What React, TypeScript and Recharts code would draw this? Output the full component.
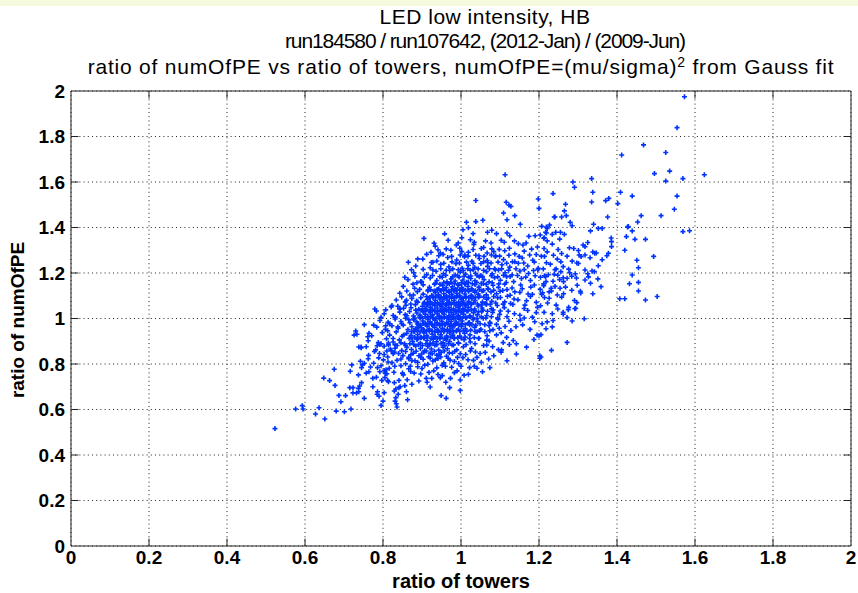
import { ScatterChart, Scatter, XAxis, YAxis, CartesianGrid, ReferenceLine } from 'recharts';

// tick values shared by both axes
const towerTicks = [0, 0.2, 0.4, 0.6, 0.8, 1, 1.2, 1.4, 1.6, 1.8, 2];
const peTicks = [0, 0.2, 0.4, 0.6, 0.8, 1, 1.2, 1.4, 1.6, 1.8, 2];

// [ratio of towers, ratio of numOfPE]
const lowTail = [
  [0.523, 0.516], [0.576, 0.602], [0.593, 0.617], [0.595, 0.602], [0.627, 0.58], [0.636, 0.608], [0.651, 0.558],
  [0.68, 0.593], [0.701, 0.59], [0.718, 0.602], [0.648, 0.738], [0.663, 0.727], [0.677, 0.706], [0.675, 0.777],
  [0.687, 0.662], [0.692, 0.634], [0.704, 0.661], [0.715, 0.696], [0.723, 0.696], [0.723, 0.673], [0.732, 0.673],
  [0.738, 0.678], [0.74, 0.703], [0.737, 0.693], [0.745, 0.718], [0.752, 0.649], [0.764, 0.766], [0.716, 0.768],
  [0.72, 0.796], [0.737, 0.752], [0.745, 0.784], [0.757, 0.76], [0.752, 0.803], [0.747, 0.796], [0.774, 0.7],
  [0.786, 0.678], [0.785, 0.667], [0.79, 0.658], [0.803, 0.674], [0.774, 0.737], [0.783, 0.742], [0.797, 0.728],
  [0.812, 0.727], [0.8, 0.637], [0.795, 0.618], [0.833, 0.652], [0.831, 0.637], [0.834, 0.625], [0.836, 0.611],
  [0.863, 0.643], [0.814, 0.722], [0.829, 0.718], [0.841, 0.696], [0.856, 0.705], [0.86, 0.678], [0.839, 0.667],
  [0.829, 0.681], [0.792, 0.766], [0.803, 0.771], [0.786, 0.784], [0.81, 0.757], [0.795, 0.792], [0.833, 0.69],
  [0.844, 0.7], [0.874, 0.711], [0.862, 0.731], [0.841, 0.728], [0.805, 0.74], [0.808, 0.775], [0.892, 0.725],
  [0.913, 0.72], [0.921, 0.699], [0.911, 0.737], [0.925, 0.737], [0.947, 0.74], [0.952, 0.749], [0.961, 0.72],
  [0.973, 0.737], [0.971, 0.696], [0.998, 0.73], [0.998, 0.684], [0.949, 0.661], [0.962, 0.649], [1.019, 0.755],
  [1.022, 0.784], [1.041, 0.781], [1.074, 0.784], [1.055, 0.766], [0.88, 0.76], [0.9, 0.78], [0.87, 0.79],
  [0.93, 0.77], [0.96, 0.79], [0.85, 0.76], [0.83, 0.79], [0.99, 0.77], [1.0, 0.79],
  [0.738, 0.875], [0.744, 0.875], [0.726, 0.927], [0.73, 0.945], [0.757, 0.876], [0.752, 0.973], [0.764, 0.935],
  [0.761, 0.92], [0.779, 1.042], [0.783, 1.033], [0.776, 0.971], [0.807, 0.968], [0.785, 0.88], [0.795, 0.889],
  [0.814, 0.884], [0.81, 0.857], [0.826, 0.845], [0.831, 0.869], [0.838, 1.054], [0.844, 1.042], [0.86, 1.08],
  [0.806, 0.758], [0.828, 0.764], [0.852, 0.752], [0.871, 0.767], [0.897, 0.756], [0.918, 0.763], [0.941, 0.754],
  [0.983, 0.762], [1.008, 0.751], [0.768, 0.787], [0.816, 0.781], [0.846, 0.792], [0.866, 0.779], [0.889, 0.788],
  [0.907, 0.795], [0.938, 0.783], [0.952, 0.794], [0.976, 0.786], [1.034, 0.79],
];

const lowerBand = [
  [0.742, 0.812], [0.776, 0.803], [0.801, 0.818], [0.823, 0.806], [0.846, 0.822], [0.858, 0.801], [0.874, 0.815],
  [0.889, 0.808], [0.903, 0.821], [0.915, 0.799], [0.928, 0.813], [0.941, 0.824], [0.956, 0.805], [0.972, 0.817],
  [0.994, 0.802], [1.018, 0.819], [1.052, 0.808], [1.118, 0.814],
  [0.762, 0.823], [0.789, 0.827], [0.813, 0.809], [0.836, 0.816], [0.866, 0.823], [0.882, 0.814], [0.897, 0.829],
  [0.921, 0.826], [0.934, 0.818], [0.948, 0.831], [0.967, 0.825], [0.983, 0.811], [1.005, 0.828], [1.032, 0.816],
  [1.071, 0.822],
  [0.763, 0.838], [0.791, 0.846], [0.812, 0.831], [0.829, 0.852], [0.851, 0.837], [0.866, 0.829], [0.878, 0.848],
  [0.892, 0.836], [0.905, 0.853], [0.917, 0.832], [0.926, 0.845], [0.938, 0.839], [0.949, 0.851], [0.963, 0.834],
  [0.978, 0.847], [0.991, 0.829], [1.012, 0.842], [1.037, 0.853], [1.084, 0.836], [1.142, 0.844],
  [0.778, 0.855], [0.803, 0.842], [0.821, 0.858], [0.84, 0.846], [0.858, 0.855], [0.871, 0.84], [0.885, 0.856],
  [0.899, 0.844], [0.911, 0.857], [0.921, 0.848], [0.932, 0.856], [0.944, 0.843], [0.957, 0.857], [0.97, 0.849],
  [0.984, 0.856], [0.998, 0.845], [1.024, 0.857], [1.049, 0.846], [1.103, 0.852],
  [0.744, 0.871], [0.781, 0.862], [0.803, 0.878], [0.819, 0.866], [0.836, 0.881], [0.848, 0.859], [0.861, 0.873],
  [0.873, 0.864], [0.884, 0.879], [0.896, 0.868], [0.907, 0.858], [0.915, 0.877], [0.924, 0.866], [0.933, 0.882],
  [0.943, 0.861], [0.954, 0.874], [0.965, 0.867], [0.977, 0.883], [0.989, 0.862], [1.006, 0.876], [1.027, 0.868],
  [1.058, 0.881], [1.096, 0.863], [1.168, 0.874],
  [0.792, 0.886], [0.814, 0.892], [0.831, 0.884], [0.846, 0.893], [0.858, 0.882], [0.869, 0.889], [0.879, 0.885],
  [0.891, 0.886], [0.901, 0.881], [0.91, 0.889], [0.919, 0.884], [0.928, 0.891], [0.938, 0.885], [0.949, 0.89],
  [0.958, 0.882], [0.968, 0.889], [0.981, 0.884], [0.994, 0.891], [1.013, 0.885], [1.036, 0.889], [1.066, 0.883],
  [1.124, 0.886],
  [0.762, 0.902], [0.788, 0.894], [0.809, 0.911], [0.826, 0.897], [0.842, 0.906], [0.855, 0.889], [0.867, 0.913],
  [0.876, 0.899], [0.887, 0.908], [0.896, 0.892], [0.904, 0.915], [0.913, 0.903], [0.921, 0.891], [0.929, 0.909],
  [0.937, 0.898], [0.946, 0.912], [0.954, 0.893], [0.962, 0.906], [0.971, 0.899], [0.982, 0.914], [0.993, 0.893],
  [1.008, 0.907], [1.024, 0.897], [1.045, 0.912], [1.072, 0.901], [1.108, 0.894], [1.187, 0.908],
  [0.733, 0.931], [0.771, 0.924], [0.798, 0.938], [0.817, 0.927], [0.834, 0.941], [0.849, 0.922], [0.861, 0.935],
  [0.872, 0.926], [0.881, 0.943], [0.889, 0.929], [0.897, 0.918], [0.905, 0.937], [0.912, 0.925], [0.919, 0.944],
  [0.926, 0.931], [0.934, 0.921], [0.941, 0.939], [0.948, 0.928], [0.956, 0.942], [0.963, 0.923], [0.971, 0.936],
  [0.979, 0.927], [0.988, 0.944], [0.997, 0.922], [1.009, 0.935], [1.023, 0.928], [1.041, 0.942], [1.067, 0.924],
  [1.103, 0.937], [1.205, 0.929],
];

const core = [
  [0.784, 0.962], [0.806, 0.953], [0.823, 0.968], [0.839, 0.957], [0.852, 0.971], [0.864, 0.951], [0.874, 0.964],
  [0.883, 0.955], [0.891, 0.972], [0.899, 0.959], [0.906, 0.948], [0.913, 0.966], [0.919, 0.954], [0.926, 0.973],
  [0.932, 0.961], [0.939, 0.951], [0.945, 0.969], [0.952, 0.957], [0.958, 0.974], [0.965, 0.952], [0.971, 0.966],
  [0.978, 0.958], [0.985, 0.971], [0.993, 0.953], [1.001, 0.965], [1.011, 0.956], [1.022, 0.972], [1.035, 0.961],
  [1.051, 0.952], [1.072, 0.968], [1.098, 0.957], [1.141, 0.964], [1.218, 0.955],
  [0.792, 0.991], [0.813, 0.983], [0.831, 0.998], [0.846, 0.987], [0.858, 1.001], [0.869, 0.981], [0.879, 0.994],
  [0.887, 0.985], [0.895, 1.002], [0.902, 0.989], [0.909, 0.979], [0.915, 0.996], [0.921, 0.986], [0.927, 1.003],
  [0.933, 0.991], [0.939, 0.981], [0.945, 0.999], [0.951, 0.988], [0.957, 1.004], [0.963, 0.982], [0.969, 0.996],
  [0.975, 0.987], [0.981, 1.001], [0.988, 0.984], [0.995, 0.997], [1.003, 0.989], [1.012, 1.003], [1.021, 0.982],
  [1.031, 0.995], [1.043, 0.987], [1.057, 1.001], [1.074, 0.983], [1.095, 0.996], [1.123, 0.988], [1.162, 1.002],
  [1.236, 0.991],
  [0.803, 1.021], [0.826, 1.013], [0.843, 1.028], [0.857, 1.017], [0.868, 1.031], [0.878, 1.011], [0.887, 1.024],
  [0.895, 1.015], [0.902, 1.032], [0.909, 1.019], [0.915, 1.009], [0.921, 1.026], [0.927, 1.016], [0.933, 1.033],
  [0.939, 1.021], [0.945, 1.011], [0.951, 1.029], [0.957, 1.018], [0.963, 1.034], [0.969, 1.012], [0.975, 1.026],
  [0.981, 1.017], [0.987, 1.031], [0.993, 1.014], [1.0, 1.027], [1.007, 1.019], [1.015, 1.033], [1.023, 1.012],
  [1.032, 1.025], [1.042, 1.016], [1.053, 1.031], [1.066, 1.013], [1.081, 1.027], [1.099, 1.018], [1.121, 1.032],
  [1.151, 1.014], [1.193, 1.026], [1.262, 1.019],
  [0.821, 1.051], [0.842, 1.043], [0.859, 1.058], [0.872, 1.047], [0.883, 1.061], [0.892, 1.041], [0.901, 1.054],
  [0.908, 1.045], [0.915, 1.062], [0.921, 1.049], [0.927, 1.039], [0.933, 1.056], [0.939, 1.046], [0.945, 1.063],
  [0.951, 1.051], [0.957, 1.041], [0.963, 1.059], [0.969, 1.048], [0.975, 1.064], [0.981, 1.042], [0.987, 1.056],
  [0.993, 1.047], [0.999, 1.061], [1.005, 1.044], [1.012, 1.057], [1.019, 1.049], [1.027, 1.063], [1.035, 1.042],
  [1.044, 1.055], [1.054, 1.046], [1.065, 1.061], [1.078, 1.043], [1.093, 1.057], [1.111, 1.048], [1.133, 1.062],
  [1.162, 1.044], [1.204, 1.056], [1.276, 1.049],
  [0.834, 1.081], [0.857, 1.073], [0.874, 1.088], [0.886, 1.077], [0.897, 1.091], [0.906, 1.071], [0.914, 1.084],
  [0.921, 1.075], [0.928, 1.092], [0.934, 1.079], [0.94, 1.069], [0.946, 1.086], [0.952, 1.076], [0.958, 1.093],
  [0.964, 1.081], [0.97, 1.071], [0.976, 1.089], [0.982, 1.078], [0.988, 1.094], [0.994, 1.072], [1.0, 1.086],
  [1.006, 1.077], [1.013, 1.091], [1.02, 1.074], [1.028, 1.087], [1.036, 1.079], [1.045, 1.093], [1.055, 1.072],
  [1.066, 1.085], [1.079, 1.076], [1.094, 1.091], [1.112, 1.073], [1.136, 1.086], [1.168, 1.078], [1.214, 1.092],
  [1.291, 1.079],
  [0.843, 1.111], [0.869, 1.103], [0.888, 1.118], [0.903, 1.107], [0.915, 1.121], [0.925, 1.101], [0.934, 1.114],
  [0.942, 1.105], [0.949, 1.122], [0.956, 1.109], [0.963, 1.099], [0.969, 1.116], [0.976, 1.106], [0.982, 1.123],
  [0.989, 1.111], [0.996, 1.101], [1.003, 1.119], [1.01, 1.108], [1.018, 1.124], [1.026, 1.102], [1.035, 1.116],
  [1.044, 1.107], [1.054, 1.121], [1.065, 1.104], [1.077, 1.117], [1.091, 1.109], [1.107, 1.123], [1.126, 1.102],
  [1.151, 1.115], [1.183, 1.106], [1.232, 1.121], [1.307, 1.112],
  [0.852, 1.141], [0.881, 1.133], [0.903, 1.148], [0.919, 1.137], [0.932, 1.151], [0.943, 1.131], [0.953, 1.144],
  [0.962, 1.135], [0.97, 1.152], [0.978, 1.139], [0.986, 1.129], [0.994, 1.146], [1.002, 1.136], [1.01, 1.153],
  [1.018, 1.141], [1.027, 1.131], [1.036, 1.149], [1.046, 1.138], [1.057, 1.154], [1.069, 1.132], [1.082, 1.146],
  [1.096, 1.137], [1.112, 1.151], [1.131, 1.134], [1.153, 1.147], [1.179, 1.138], [1.212, 1.152], [1.254, 1.133],
  [1.298, 1.146], [0.916, 1.126],
];

// the solid blue centre of the cloud
const coreFill = [
  [0.872, 0.913], [0.881, 0.918], [0.889, 0.911], [0.898, 0.917], [0.906, 0.914], [0.914, 0.919], [0.923, 0.912],
  [0.931, 0.916], [0.94, 0.913], [0.948, 0.918], [0.957, 0.911], [0.965, 0.916], [0.974, 0.919], [0.983, 0.912],
  [0.992, 0.917], [1.001, 0.914], [1.011, 0.918], [1.022, 0.912], [1.034, 0.916], [1.046, 0.913],
  [0.878, 0.944], [0.887, 0.948], [0.895, 0.942], [0.903, 0.947], [0.911, 0.943], [0.918, 0.949], [0.926, 0.945],
  [0.933, 0.941], [0.941, 0.947], [0.949, 0.943], [0.957, 0.949], [0.965, 0.944], [0.973, 0.948], [0.981, 0.942],
  [0.989, 0.947], [0.997, 0.943], [1.006, 0.948], [1.015, 0.944], [1.025, 0.949], [1.036, 0.943], [1.048, 0.947],
  [1.061, 0.942], [1.074, 0.946],
  [0.888, 0.976], [0.896, 0.971], [0.904, 0.978], [0.911, 0.973], [0.918, 0.979], [0.925, 0.974], [0.932, 0.97],
  [0.939, 0.977], [0.946, 0.972], [0.953, 0.978], [0.96, 0.973], [0.967, 0.979], [0.974, 0.974], [0.981, 0.97],
  [0.988, 0.977], [0.995, 0.972], [1.003, 0.978], [1.011, 0.973], [1.019, 0.979], [1.028, 0.974], [1.038, 0.97],
  [1.049, 0.977], [1.061, 0.973], [1.075, 0.978], [1.091, 0.974],
  [0.894, 1.006], [0.901, 1.001], [0.908, 1.008], [0.915, 1.003], [0.922, 1.009], [0.929, 1.004], [0.936, 1.0],
  [0.943, 1.007], [0.95, 1.002], [0.957, 1.008], [0.964, 1.003], [0.971, 1.009], [0.978, 1.004], [0.985, 1.0],
  [0.992, 1.007], [0.999, 1.002], [1.006, 1.008], [1.014, 1.003], [1.022, 1.009], [1.031, 1.004], [1.041, 1.0],
  [1.052, 1.007], [1.064, 1.002], [1.078, 1.008], [1.094, 1.003],
  [0.898, 1.036], [0.905, 1.031], [0.912, 1.038], [0.919, 1.033], [0.926, 1.039], [0.933, 1.034], [0.94, 1.03],
  [0.947, 1.037], [0.954, 1.032], [0.961, 1.038], [0.968, 1.033], [0.975, 1.039], [0.982, 1.034], [0.989, 1.03],
  [0.996, 1.037], [1.003, 1.032], [1.01, 1.038], [1.018, 1.033], [1.026, 1.039], [1.035, 1.034], [1.045, 1.03],
  [1.056, 1.037], [1.068, 1.032], [1.082, 1.038], [1.101, 1.033],
  [0.905, 1.066], [0.912, 1.061], [0.919, 1.068], [0.926, 1.063], [0.933, 1.069], [0.94, 1.064], [0.947, 1.06],
  [0.954, 1.067], [0.961, 1.062], [0.968, 1.068], [0.975, 1.063], [0.982, 1.069], [0.989, 1.064], [0.996, 1.06],
  [1.003, 1.067], [1.01, 1.062], [1.017, 1.068], [1.025, 1.063], [1.033, 1.069], [1.042, 1.064], [1.052, 1.06],
  [1.063, 1.067], [1.075, 1.062], [1.089, 1.068], [1.108, 1.063],
  [0.912, 1.096], [0.92, 1.091], [0.928, 1.098], [0.935, 1.093], [0.942, 1.099], [0.949, 1.094], [0.956, 1.09],
  [0.963, 1.097], [0.97, 1.092], [0.977, 1.098], [0.984, 1.093], [0.991, 1.099], [0.998, 1.094], [1.005, 1.09],
  [1.012, 1.097], [1.02, 1.092], [1.028, 1.098], [1.037, 1.093], [1.047, 1.099], [1.058, 1.094], [1.07, 1.09],
  [1.084, 1.097], [1.101, 1.092], [1.119, 1.098],
  [0.922, 1.126], [0.931, 1.121], [0.939, 1.128], [0.947, 1.123], [0.955, 1.129], [0.962, 1.124], [0.969, 1.12],
  [0.976, 1.127], [0.983, 1.122], [0.99, 1.128], [0.997, 1.123], [1.004, 1.129], [1.012, 1.124], [1.02, 1.12],
  [1.028, 1.127], [1.037, 1.122], [1.047, 1.128], [1.058, 1.123], [1.07, 1.129], [1.084, 1.124], [1.1, 1.12],
  [1.118, 1.127],
  [0.935, 1.156], [0.946, 1.151], [0.956, 1.158], [0.965, 1.153], [0.974, 1.159], [0.983, 1.154], [0.992, 1.15],
  [1.001, 1.157], [1.01, 1.152], [1.019, 1.158], [1.029, 1.153], [1.04, 1.159], [1.052, 1.154], [1.065, 1.15],
  [1.08, 1.157], [1.097, 1.152], [1.116, 1.158],
];

// shoulders left and right of the centre
const sideFill = [
  [1.118, 1.008], [1.137, 1.021], [1.152, 0.993], [1.171, 1.035], [1.183, 1.006], [1.196, 1.049], [1.213, 1.027],
  [1.127, 1.066], [1.146, 1.082], [1.164, 1.059], [1.178, 1.097], [1.193, 1.071], [1.209, 1.113], [1.226, 1.089],
  [1.241, 1.141], [1.138, 1.117], [1.157, 1.131], [1.172, 1.108], [1.188, 1.147], [1.203, 1.128], [1.218, 1.162],
  [1.247, 1.103], [1.268, 1.138], [1.279, 1.201], [1.253, 1.171], [1.113, 0.965], [1.128, 0.947], [1.158, 0.972],
  [1.177, 0.952], [1.189, 0.986], [1.082, 0.951], [1.091, 0.928], [1.117, 0.917], [1.134, 0.903], [1.066, 0.905],
  [1.081, 0.876], [1.104, 0.862], [1.062, 0.851], [1.041, 0.829],
  [0.812, 0.946], [0.826, 0.912], [0.838, 0.963], [0.853, 0.928], [0.817, 0.977], [0.832, 1.006], [0.848, 0.977],
  [0.861, 1.012], [0.873, 0.943], [0.866, 0.995], [0.853, 1.045], [0.871, 1.064], [0.884, 1.037], [0.889, 1.072],
  [0.878, 1.103], [0.894, 1.128], [0.861, 1.121], [0.877, 1.151], [0.899, 1.161], [0.848, 1.095], [0.823, 1.057],
  [0.807, 1.038], [0.795, 1.005], [0.891, 0.962], [0.881, 1.002],
  [0.856, 1.181], [0.873, 1.214], [0.889, 1.262], [0.912, 1.282], [0.928, 1.247], [0.887, 1.157], [0.941, 1.302],
];

const upperBand = [
  [0.864, 1.171], [0.897, 1.163], [0.921, 1.178], [0.938, 1.167], [0.952, 1.181], [0.964, 1.161], [0.975, 1.174],
  [0.985, 1.165], [0.995, 1.182], [1.005, 1.169], [1.015, 1.159], [1.025, 1.176], [1.036, 1.166], [1.047, 1.183],
  [1.059, 1.171], [1.072, 1.161], [1.086, 1.179], [1.101, 1.168], [1.117, 1.184], [1.135, 1.162], [1.155, 1.176],
  [1.178, 1.167], [1.204, 1.181], [1.236, 1.164], [1.272, 1.177], [1.318, 1.169], [1.351, 1.174],
  [0.882, 1.186], [0.906, 1.182], [0.927, 1.189], [0.946, 1.184], [0.961, 1.19], [0.978, 1.183], [0.991, 1.188],
  [1.008, 1.186], [1.019, 1.182], [1.041, 1.189], [1.055, 1.184], [1.078, 1.188], [1.094, 1.183], [1.109, 1.19],
  [1.126, 1.185], [1.145, 1.189], [1.166, 1.182], [1.19, 1.188], [1.217, 1.184], [1.248, 1.19], [1.284, 1.186],
  [1.327, 1.183],
  [0.879, 1.201], [0.912, 1.193], [0.936, 1.208], [0.955, 1.197], [0.971, 1.211], [0.985, 1.191], [0.998, 1.204],
  [1.011, 1.195], [1.024, 1.212], [1.037, 1.199], [1.051, 1.189], [1.065, 1.206], [1.08, 1.196], [1.096, 1.213],
  [1.113, 1.201], [1.131, 1.191], [1.151, 1.209], [1.173, 1.198], [1.197, 1.214], [1.224, 1.192], [1.256, 1.206],
  [1.293, 1.197], [1.336, 1.209], [1.025, 1.187],
  [0.903, 1.216], [0.928, 1.213], [0.948, 1.219], [0.962, 1.212], [0.979, 1.218], [0.993, 1.214], [1.006, 1.211],
  [1.017, 1.219], [1.031, 1.215], [1.044, 1.218], [1.058, 1.212], [1.073, 1.219], [1.088, 1.214], [1.104, 1.218],
  [1.122, 1.212], [1.141, 1.219], [1.162, 1.215], [1.186, 1.211], [1.211, 1.218], [1.241, 1.214], [1.276, 1.217],
  [1.318, 1.213],
  [0.884, 1.231], [0.921, 1.223], [0.948, 1.238], [0.969, 1.227], [0.987, 1.241], [1.003, 1.221], [1.019, 1.234],
  [1.035, 1.225], [1.051, 1.242], [1.068, 1.229], [1.086, 1.219], [1.105, 1.236], [1.125, 1.226], [1.147, 1.243],
  [1.171, 1.231], [1.198, 1.221], [1.229, 1.239], [1.262, 1.228], [1.301, 1.242], [1.352, 1.232], [1.069, 1.245],
  [0.924, 1.246], [0.956, 1.243], [0.977, 1.249], [0.996, 1.244], [1.014, 1.248], [1.031, 1.243], [1.058, 1.249],
  [1.077, 1.244], [1.095, 1.248], [1.117, 1.243], [1.138, 1.249], [1.161, 1.244], [1.188, 1.248], [1.219, 1.245],
  [1.256, 1.249], [1.297, 1.244],
  [0.902, 1.261], [0.938, 1.253], [0.966, 1.268], [0.989, 1.257], [1.009, 1.271], [1.028, 1.251], [1.047, 1.264],
  [1.067, 1.255], [1.088, 1.272], [1.109, 1.259], [1.132, 1.249], [1.157, 1.266], [1.184, 1.256], [1.214, 1.273],
  [1.247, 1.261], [1.285, 1.252], [1.331, 1.267], [1.362, 1.258],
  [0.943, 1.276], [0.976, 1.273], [0.998, 1.279], [1.018, 1.274], [1.038, 1.278], [1.059, 1.273], [1.078, 1.279],
  [1.099, 1.274], [1.123, 1.278], [1.149, 1.273], [1.176, 1.279], [1.206, 1.274], [1.237, 1.278], [1.272, 1.274],
  [1.318, 1.279],
  [0.923, 1.291], [0.947, 1.288], [0.954, 1.282], [0.974, 1.3], [1.002, 1.294], [1.01, 1.279], [1.019, 1.291],
  [1.046, 1.276], [1.067, 1.288], [1.084, 1.294], [1.089, 1.276], [1.112, 1.298], [1.138, 1.284], [1.162, 1.296],
  [1.193, 1.281], [1.221, 1.293], [1.258, 1.286], [1.301, 1.299], [1.343, 1.287],
  [0.962, 1.306], [0.997, 1.309], [1.031, 1.303], [1.052, 1.308], [1.098, 1.304], [1.124, 1.309], [1.181, 1.305],
  [1.213, 1.308], [1.249, 1.303], [1.289, 1.308],
  [0.934, 1.318], [0.988, 1.323], [0.993, 1.332], [1.033, 1.326], [1.058, 1.312], [1.077, 1.332], [1.079, 1.306],
  [1.111, 1.335], [1.147, 1.329], [1.159, 1.323], [1.167, 1.332], [1.196, 1.314], [1.234, 1.327], [1.278, 1.311],
  [1.325, 1.334], [0.865, 1.247], [0.905, 1.352], [0.958, 1.372], [0.931, 1.331],
];

const highTail = [
  [0.967, 1.344], [1.002, 1.355], [1.024, 1.346], [1.034, 1.335], [1.063, 1.341], [1.103, 1.344], [1.137, 1.341],
  [1.174, 1.361], [1.19, 1.364], [1.203, 1.367], [1.214, 1.355], [1.219, 1.376], [1.234, 1.37], [1.243, 1.379],
  [1.031, 1.373], [1.068, 1.379], [1.079, 1.388], [1.091, 1.373], [1.118, 1.376], [1.125, 1.364], [1.005, 1.39],
  [1.019, 1.399], [1.014, 1.423], [1.038, 1.426], [1.056, 1.432], [1.152, 1.414], [1.219, 1.402], [1.227, 1.411],
  [1.118, 1.434], [1.109, 1.464], [1.138, 1.452], [1.241, 1.446], [1.2, 1.484], [1.198, 1.525], [1.116, 1.511],
  [1.123, 1.499], [1.128, 1.493], [1.038, 1.519], [1.236, 1.549],
  [1.207, 1.405], [1.217, 1.379], [1.221, 1.396], [1.212, 1.353], [1.221, 1.341], [1.255, 1.379], [1.265, 1.37],
  [1.253, 1.349], [1.28, 1.423], [1.285, 1.408], [1.34, 1.414], [1.352, 1.396], [1.362, 1.396], [1.332, 1.385],
  [1.268, 1.502], [1.265, 1.473], [1.258, 1.446], [1.27, 1.452], [1.239, 1.446],
];

const rightScatter = [
  [1.573, 1.975], [1.554, 1.839], [1.468, 1.763], [1.412, 1.719], [1.525, 1.73], [1.535, 1.648], [1.496, 1.637],
  [1.525, 1.604], [1.569, 1.615], [1.624, 1.632], [1.113, 1.632], [1.287, 1.6], [1.291, 1.577], [1.335, 1.615],
  [1.409, 1.555], [1.338, 1.555], [1.439, 1.538], [1.554, 1.538], [1.379, 1.528], [1.371, 1.518], [1.335, 1.512],
  [1.402, 1.505], [1.547, 1.48], [1.462, 1.452], [1.513, 1.452], [1.453, 1.424], [1.376, 1.446], [1.429, 1.404],
  [1.569, 1.382], [1.586, 1.386], [1.473, 1.348], [1.446, 1.348], [1.424, 1.36], [1.42, 1.3], [1.494, 1.273],
  [1.451, 1.256], [1.455, 1.223], [1.439, 1.191], [1.432, 1.153], [1.455, 1.159], [1.455, 1.121], [1.407, 1.087],
  [1.42, 1.087], [1.473, 1.081], [1.503, 1.097], [1.385, 1.354], [1.386, 1.338], [1.386, 1.316], [1.378, 1.287],
  [1.374, 1.276], [1.313, 1.323], [1.318, 1.316], [1.303, 1.279], [1.308, 1.272], [1.338, 1.292], [1.347, 1.288],
  [1.325, 1.197], [1.342, 1.206], [1.359, 1.14], [1.338, 1.109], [1.332, 1.155], [1.306, 1.12], [1.297, 1.07],
  [1.292, 1.043], [1.316, 0.999], [1.284, 1.124], [1.296, 1.178], [1.427, 1.402], [1.439, 1.385],
  [1.272, 0.895], [1.205, 0.831], [1.234, 0.963], [1.208, 0.977], [1.221, 0.985], [1.285, 0.989], [1.272, 1.004],
  [1.262, 1.027], [1.275, 1.039], [1.294, 1.045], [1.244, 1.059], [1.248, 1.042], [1.234, 1.021], [1.258, 1.094],
  [1.263, 1.109], [1.226, 1.117], [1.262, 1.179], [1.263, 1.162], [1.239, 1.194], [1.244, 1.218], [1.214, 1.188],
  [1.212, 1.144], [1.231, 1.133], [1.207, 1.106], [1.222, 1.068], [1.202, 0.825], [1.202, 0.836], [1.142, 0.889],
  [1.232, 0.86], [1.195, 0.927], [1.2, 0.924],
];

const points = [
  ...lowTail,
  ...lowerBand,
  ...core,
  ...coreFill,
  ...sideFill,
  ...upperBand,
  ...highTail,
  ...rightScatter,
].map(([x, y]) => ({ towers: x, pe: y }));

const FONT = 'Arial, "Liberation Sans", Helvetica, sans-serif';
const BLUE = '#0033ff';

const PlusMarker = (props: any) => {
  const { cx, cy } = props;
  if (cx == null || cy == null) return null;
  return (
    <path
      d={`M${cx - 2.5},${cy}H${cx + 2.5}M${cx},${cy - 2.5}V${cy + 2.5}`}
      stroke={BLUE}
      strokeWidth={1.6}
      fill="none"
    />
  );
};

const tickStyle = { fontSize: 19, fill: '#000', fontFamily: FONT, fontWeight: 'bold' as const };
const titleLine = {
  position: 'absolute' as const,
  left: 0,
  width: 922,
  textAlign: 'center' as const,
  fontSize: 21,
  lineHeight: '22px',
  whiteSpace: 'nowrap' as const,
};

export default function App() {
  return (
    <div
      style={{
        position: 'absolute',
        left: 0,
        top: 0,
        width: 858,
        height: 593,
        background: '#fff',
        fontFamily: FONT,
        overflow: 'hidden',
      }}
    >
      <div style={{ position: 'absolute', left: 0, top: 0, width: 858, height: 6, background: '#f5fadc' }} />
      <div style={{ ...titleLine, left: 24, top: 6, letterSpacing: 0.5 }}>LED low intensity, HB</div>
      <div style={{ ...titleLine, left: 24, top: 30, letterSpacing: -1.1 }}>
        run184580 / run107642, (2012-Jan) / (2009-Jun)
      </div>
      <div style={{ ...titleLine, top: 56, letterSpacing: 0.8 }}>
        ratio of numOfPE vs ratio of towers, numOfPE=(mu/sigma)
        <sup style={{ fontSize: 14, verticalAlign: 'top', position: 'relative', top: -5 }}>2</sup> from Gauss fit
      </div>
      <ScatterChart width={858} height={593} margin={{ top: 91, right: 7, bottom: 0, left: 0 }}>
        <CartesianGrid stroke="#222" strokeDasharray="1 3.2" horizontalValues={peTicks} verticalValues={towerTicks} />
        <XAxis
          type="number"
          dataKey="towers"
          domain={[0, 2]}
          ticks={towerTicks}
          tickFormatter={(v: number) => String(v)}
          height={47}
          tickSize={0}
          tickMargin={5}
          tickLine={false}
          axisLine={{ stroke: '#222' }}
          tick={tickStyle}
          allowDataOverflow
        />
        <YAxis
          type="number"
          dataKey="pe"
          domain={[0, 2]}
          ticks={peTicks}
          tickFormatter={(v: number) => String(v)}
          width={71}
          tickSize={0}
          tickMargin={6}
          tickLine={false}
          axisLine={{ stroke: '#222' }}
          tick={tickStyle}
          allowDataOverflow
        />
        <ReferenceLine x={2} stroke="#222" />
        <ReferenceLine y={2} stroke="#222" />
        {towerTicks.slice(1, -1).map((t) => (
          <ReferenceLine key={`xb${t}`} segment={[{ x: t, y: 0 }, { x: t, y: 0.033 }]} stroke="#222" />
        ))}
        {towerTicks.slice(1, -1).map((t) => (
          <ReferenceLine key={`xt${t}`} segment={[{ x: t, y: 2 }, { x: t, y: 1.967 }]} stroke="#222" />
        ))}
        {peTicks.slice(1, -1).map((t) => (
          <ReferenceLine key={`yl${t}`} segment={[{ x: 0, y: t }, { x: 0.019, y: t }]} stroke="#222" />
        ))}
        {peTicks.slice(1, -1).map((t) => (
          <ReferenceLine key={`yr${t}`} segment={[{ x: 2, y: t }, { x: 1.981, y: t }]} stroke="#222" />
        ))}
        <Scatter data={points} shape={PlusMarker} isAnimationActive={false} />
      </ScatterChart>
      <div
        style={{
          position: 'absolute',
          left: 0,
          width: 922,
          top: 571,
          textAlign: 'center',
          fontSize: 20,
          fontWeight: 'bold',
          lineHeight: '20px',
        }}
      >
        ratio of towers
      </div>
      <div
        style={{
          position: 'absolute',
          left: 18,
          top: 320,
          transform: 'translate(-50%, -50%) rotate(-90deg)',
          fontSize: 19,
          fontWeight: 'bold',
          whiteSpace: 'nowrap',
          lineHeight: '22px',
        }}
      >
        ratio of numOfPE
      </div>
    </div>
  );
}
